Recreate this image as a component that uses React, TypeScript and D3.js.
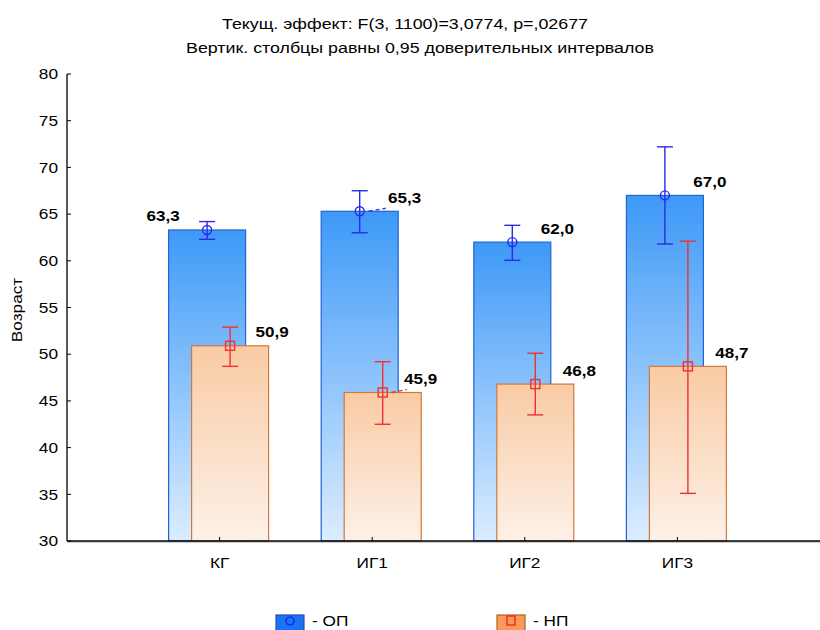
import React from "react";
import * as d3 from "d3";

const categories = ["КГ", "ИГ1", "ИГ2", "ИГ3"];
const opMeans = [63.3, 65.3, 62.0, 67.0];
const opLow = [62.3, 63.0, 60.05, 61.8];
const opHigh = [64.2, 67.5, 63.8, 72.2];
const npMeans = [50.9, 45.9, 46.8, 48.7];
const npLow = [48.7, 42.5, 43.5, 35.1];
const npHigh = [52.9, 49.2, 50.1, 62.1];
const yTicks = [30, 35, 40, 45, 50, 55, 60, 65, 70, 75, 80];
const titleLines = [
  "Текущ.  эффект: F(3, 1100)=3,0774, p=,02677",
  "Вертик. столбцы равны 0,95 доверительных интервалов",
];
const legendLabels = ["- ОП", "- НП"];

// label placement styling (offset from point)
const opLabelDx = [-44, 45, 45, 45];
const npLabelDx = [42, 38, 44, 44];
const connector = [false, true, false, false];

const fmt = (v: number) => v.toFixed(1).replace(".", ",");

const SX = 1.15;

function T(props: { x: number; y: number; anchor?: string; size: number; bold?: boolean; rotate?: boolean; children: React.ReactNode; sx?: number }) {
  const s = props.sx ?? SX;
  const tr = props.rotate
    ? `translate(${props.x},${props.y}) rotate(-90) scale(${s},1)`
    : `translate(${props.x},${props.y}) scale(${s},1)`;
  return (
    <text transform={tr} textAnchor={props.anchor || "start"} fontSize={props.size}
      fontWeight={props.bold ? "bold" : "normal"} fill="#000" dy="0.35em">{props.children}</text>
  );
}

export default function App() {
  const W = 820, H = 630;
  const x = d3.scalePoint<number>().domain([0, 1, 2, 3, 4, 5]).range([67, 830]);
  const y = d3.scaleLinear().domain([30, 80]).range([541, 74]);
  const font = "'Liberation Sans', Arial, sans-serif";
  const cx = (i: number) => x(i + 1)!;
  const barW = 77;
  const opOff = -12.5, npOff = 10.5;
  const cap = 8;

  return (
    <svg width={W} height={H} style={{ position: "absolute", left: 0, top: 0 }} fontFamily={font}>
      <defs>
        <linearGradient id="gBlue" x1="0" y1="0" x2="0" y2="1">
          <stop offset="0" stopColor="#3d99f7" />
          <stop offset="1" stopColor="#dcedff" />
        </linearGradient>
        <linearGradient id="gOrange" x1="0" y1="0" x2="0" y2="1">
          <stop offset="0" stopColor="#f9cba4" />
          <stop offset="1" stopColor="#fdf1e8" />
        </linearGradient>
      </defs>
      <rect width={W} height={H} fill="#fff" />
      <T x={405} y={24} anchor="middle" size={15.5}>{titleLines[0]}</T>
      <T x={420} y={48} anchor="middle" size={15.5}>{titleLines[1]}</T>
      {/* y axis label */}
      <T x={17} y={310} anchor="middle" size={15} rotate>Возраст</T>

      {/* bars */}
      {categories.map((c, i) => {
        const bx = cx(i) + opOff - barW / 2;
        return (
          <rect key={"op" + c} x={bx} y={y(opMeans[i])} width={barW} height={y(30) - y(opMeans[i])}
            fill="url(#gBlue)" stroke="#2263d6" strokeWidth={1.2} />
        );
      })}
      {categories.map((c, i) => {
        const bx = cx(i) + npOff - barW / 2;
        return (
          <rect key={"np" + c} x={bx} y={y(npMeans[i])} width={barW} height={y(30) - y(npMeans[i])}
            fill="url(#gOrange)" stroke="#cd7a3c" strokeWidth={1.2} />
        );
      })}

      {/* error bars OP */}
      {categories.map((c, i) => {
        const px = cx(i) + opOff;
        return (
          <g key={"eop" + c} stroke="#2a2ae8" strokeWidth={1.4} fill="none">
            <line x1={px} x2={px} y1={y(opLow[i])} y2={y(opHigh[i])} />
            <line x1={px - cap} x2={px + cap} y1={y(opLow[i])} y2={y(opLow[i])} />
            <line x1={px - cap} x2={px + cap} y1={y(opHigh[i])} y2={y(opHigh[i])} />
            <circle cx={px} cy={y(opMeans[i])} r={4.5} />
            {connector[i] && (
              <line x1={px + 9} y1={y(opMeans[i])} x2={px + 26} y2={y(opMeans[i]) - 3} strokeDasharray="4,3" />
            )}
          </g>
        );
      })}
      {/* error bars NP */}
      {categories.map((c, i) => {
        const px = cx(i) + npOff;
        return (
          <g key={"enp" + c} stroke="#f23030" strokeWidth={1.4} fill="none">
            <line x1={px} x2={px} y1={y(npLow[i])} y2={y(npHigh[i])} />
            <line x1={px - cap} x2={px + cap} y1={y(npLow[i])} y2={y(npLow[i])} />
            <line x1={px - cap} x2={px + cap} y1={y(npHigh[i])} y2={y(npHigh[i])} />
            <rect x={px - 4.5} y={y(npMeans[i]) - 4.5} width={9} height={9} />
            {connector[i] && (
              <line x1={px + 9} y1={y(npMeans[i])} x2={px + 24} y2={y(npMeans[i]) - 3} strokeDasharray="4,3" />
            )}
          </g>
        );
      })}

      {/* value labels */}
      {categories.map((c, i) => (
        <T key={"lop" + c} x={cx(i) + opOff + opLabelDx[i]} y={y(opMeans[i]) - 14} anchor="middle" size={15.5} bold sx={1.1}>{fmt(opMeans[i])}</T>
      ))}
      {categories.map((c, i) => (
        <T key={"lnp" + c} x={cx(i) + npOff + npLabelDx[i]} y={y(npMeans[i]) - 14} anchor="middle" size={15.5} bold sx={1.1}>{fmt(npMeans[i])}</T>
      ))}

      {/* axes */}
      <line x1={67} x2={820} y1={542.2} y2={542.2} stroke="#c8c8c8" strokeWidth={1.5} />
      <line x1={67} x2={820} y1={541} y2={541} stroke="#000" strokeWidth={1.3} />
      <line x1={67} x2={67} y1={y(80)} y2={y(30)} stroke="#000" strokeWidth={1.3} />
      {yTicks.map((t) => (
        <g key={t}>
          <line x1={67} x2={71} y1={y(t)} y2={y(t)} stroke="#000" />
          <T x={58} y={y(t)} anchor="end" size={15}>{t}</T>
        </g>
      ))}
      {categories.map((c, i) => (
        <g key={"xt" + c}>
          <line x1={cx(i)} x2={cx(i)} y1={541} y2={537} stroke="#000" />
          <T x={cx(i)} y={563} anchor="middle" size={15}>{c}</T>
        </g>
      ))}

      {/* legend */}
      {legendLabels.map((l, i) => {
        const lx = [276, 497][i];
        return (
          <g key={l}>
            <rect x={lx} y={615} width={28} height={20}
              fill={i === 0 ? "#1a73f0" : "#f79b58"} stroke={i === 0 ? "#1f4fb8" : "#b0612a"} strokeWidth={1.2} />
            {i === 0 ? (
              <circle cx={lx + 14} cy={621} r={4} fill="none" stroke="#1010ff" strokeWidth={1.2} />
            ) : (
              <rect x={lx + 10} y={616} width={8} height={9} fill="none" stroke="#ff1010" strokeWidth={1.2} />
            )}
            <T x={lx + 36} y={621} size={15}>{l}</T>
          </g>
        );
      })}
    </svg>
  );
}
